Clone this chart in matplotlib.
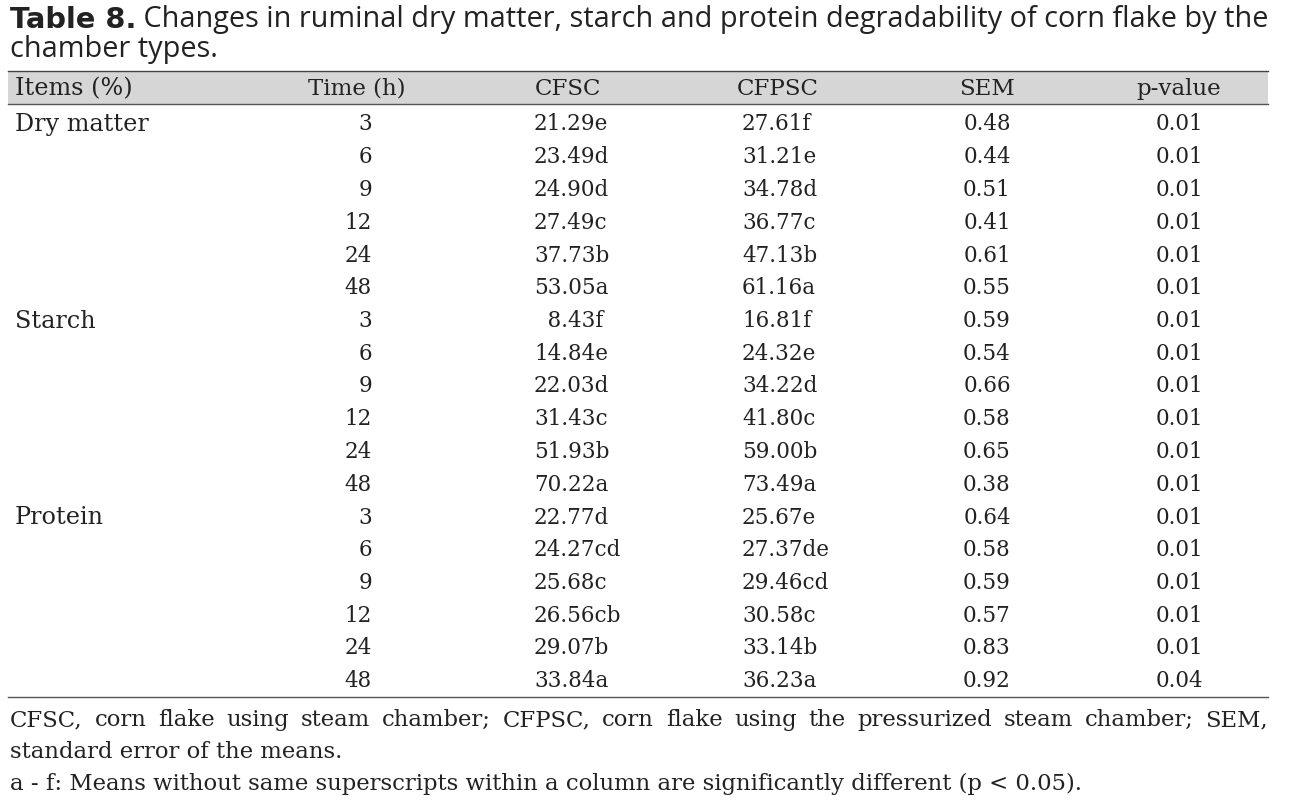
import matplotlib
matplotlib.use("Agg")
import matplotlib.pyplot as plt
from matplotlib.patches import Rectangle

# table content
columns = ["Items (%)", "Time (h)", "CFSC", "CFPSC", "SEM", "p-value"]
items = ["Dry matter", "Starch", "Protein"]
times = ["3", "6", "9", "12", "24", "48"]
cfsc = [
    ["21.29e", "23.49d", "24.90d", "27.49c", "37.73b", "53.05a"],
    ["\u20078.43f", "14.84e", "22.03d", "31.43c", "51.93b", "70.22a"],
    ["22.77d", "24.27cd", "25.68c", "26.56cb", "29.07b", "33.84a"],
]
cfpsc = [
    ["27.61f", "31.21e", "34.78d", "36.77c", "47.13b", "61.16a"],
    ["16.81f", "24.32e", "34.22d", "41.80c", "59.00b", "73.49a"],
    ["25.67e", "27.37de", "29.46cd", "30.58c", "33.14b", "36.23a"],
]
sem = [
    ["0.48", "0.44", "0.51", "0.41", "0.61", "0.55"],
    ["0.59", "0.54", "0.66", "0.58", "0.65", "0.38"],
    ["0.64", "0.58", "0.59", "0.57", "0.83", "0.92"],
]
pval = [
    ["0.01", "0.01", "0.01", "0.01", "0.01", "0.01"],
    ["0.01", "0.01", "0.01", "0.01", "0.01", "0.01"],
    ["0.01", "0.01", "0.01", "0.01", "0.01", "0.04"],
]
title_bold = "Table 8."
title_rest = " Changes in ruminal dry matter, starch and protein degradability of corn flake by the"
title_line2 = "chamber types."
notes = [
    "CFSC, corn flake using steam chamber; CFPSC, corn flake using the pressurized steam chamber; SEM,",
    "standard error of the means.",
    "a - f: Means without same superscripts within a column are significantly different (p < 0.05).",
]

W, H = 1289, 800
fig = plt.figure(figsize=(W / 100, H / 100), dpi=100)
ax = fig.add_axes([0, 0, 1, 1])
ax.set_xlim(0, W)
ax.set_ylim(H, 0)
ax.axis("off")

serif = "DejaVu Serif"
sans = "Open Sans"
fs_word = 17.2
fs_head = 16.5
fs_num = 15.5
fs_note = 16.4
tfs = 20.8
tc = "#222222"
inv = ax.transData.inverted()


def width_px(txt):
    fig.canvas.draw()
    bb = txt.get_window_extent()
    return bb.x1 - bb.x0


# title: bold part then the rest right after it
t = ax.text(10, 20, title_bold, fontsize=tfs, fontweight="bold", family="DejaVu Sans",
            va="center", ha="left", color=tc)
fig.canvas.draw()
xd = inv.transform((t.get_window_extent().x1, 0))[0]
ax.text(xd, 20, title_rest, fontsize=tfs, family=sans, va="center", ha="left", color=tc)
ax.text(10, 50, title_line2, fontsize=tfs, family=sans, va="center", ha="left", color=tc)

# header band and rules
left, right = 8, 1268
ax.add_patch(Rectangle((left, 71), right - left, 33, facecolor="#d6d6d6", edgecolor="none"))
ax.plot([left, right], [71, 71], color="#444444", lw=1)
ax.plot([left, right], [104, 104], color="#555555", lw=1)
ax.plot([left, right], [697, 697], color="#555555", lw=1)

hx = [15, 357, 568, 778, 987, 1179]
for i, c in enumerate(columns):
    ax.text(hx[i], 89, c, fontsize=fs_head if i else fs_word, family=serif, color=tc,
            va="center", ha="left" if i == 0 else "center")

row_y0, row_dy = 124.5, 32.75
r = 0
for g, item in enumerate(items):
    for k, tm in enumerate(times):
        y = row_y0 + r * row_dy
        if k == 0:
            ax.text(15, y, item, fontsize=fs_word, family=serif, color=tc, va="center", ha="left")
        ax.text(372, y, tm, fontsize=fs_num, family=serif, color=tc, va="center", ha="right")
        ax.text(534, y, cfsc[g][k], fontsize=fs_num, family=serif, color=tc, va="center", ha="left")
        ax.text(742, y, cfpsc[g][k], fontsize=fs_num, family=serif, color=tc, va="center", ha="left")
        ax.text(987, y, sem[g][k], fontsize=fs_num, family=serif, color=tc, va="center", ha="center")
        ax.text(1179, y, pval[g][k], fontsize=fs_num, family=serif, color=tc, va="center", ha="center")
        r += 1

# footnotes, first line justified to the table width
words = notes[0].split(" ")
wtexts = [ax.text(0, 720, w, fontsize=fs_note, family=serif, color=tc, va="center", ha="left")
          for w in words]
fig.canvas.draw()
scale = (inv.transform((1, 0))[0] - inv.transform((0, 0))[0])
widths = [(wt.get_window_extent().x1 - wt.get_window_extent().x0) * scale for wt in wtexts]
gap = (right - 10 - sum(widths)) / (len(words) - 1)
x = 10
for wt, w in zip(wtexts, widths):
    wt.set_x(x)
    x += w + gap

for i, n in enumerate(notes[1:], start=1):
    ax.text(10, 720 + i * 32, n, fontsize=fs_note, family=serif, color=tc, va="center", ha="left")

fig.savefig("out.png", dpi=100)
